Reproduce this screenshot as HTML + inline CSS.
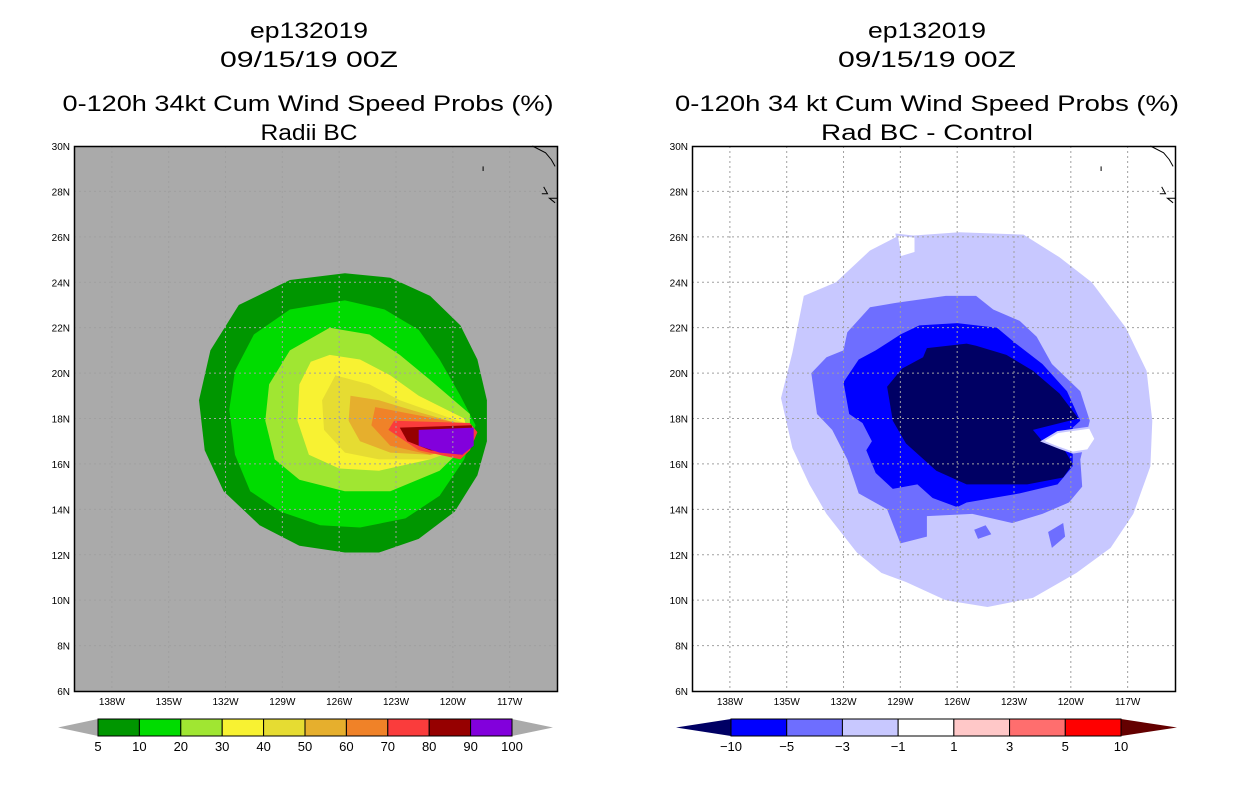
<!DOCTYPE html>
<html><head><meta charset="utf-8"><style>
html,body{margin:0;padding:0;background:#fff;}
svg{display:block;font-family:"Liberation Sans",sans-serif;}
</style></head><body>
<svg id="root" width="1236" height="800" viewBox="0 0 1236 800" xmlns="http://www.w3.org/2000/svg">
<g font-size="22" text-anchor="middle" fill="#000">
<text x="309" y="38" textLength="118" lengthAdjust="spacingAndGlyphs">ep132019</text>
<text x="309" y="67" textLength="178" lengthAdjust="spacingAndGlyphs">09/15/19 00Z</text>
<text x="308" y="111" textLength="491" lengthAdjust="spacingAndGlyphs">0-120h 34kt Cum Wind Speed Probs (%)</text>
<text x="309" y="140" textLength="97" lengthAdjust="spacingAndGlyphs">Radii BC</text>
</g>
<g font-size="22" text-anchor="middle" fill="#000">
<text x="927" y="38" textLength="118" lengthAdjust="spacingAndGlyphs">ep132019</text>
<text x="927" y="67" textLength="178" lengthAdjust="spacingAndGlyphs">09/15/19 00Z</text>
<text x="927" y="111" textLength="504" lengthAdjust="spacingAndGlyphs">0-120h 34 kt Cum Wind Speed Probs (%)</text>
<text x="927" y="140" textLength="212" lengthAdjust="spacingAndGlyphs">Rad BC - Control</text>
</g>
<g id="left"></g>
<g id="right"></g>
<g id="cbars"></g>
</svg>
<script>
// ---- axis data ----
const lonTicks = [138,135,132,129,126,123,120,117];
const latTicks = [6,8,10,12,14,16,18,20,22,24,26,28,30];
const lonMin = 114.5, lonMax = 140, latMin = 6, latMax = 30;

// ---- left panel: probability contours (lon W, lat N) ----
const leftLevels = [5,10,20,30,40,50,60,70,80,90];
const leftColors = ['#009600','#00dc00','#a0e632','#f8f232','#e6dc32','#e6af2d','#f08228','#fa3c3c','#960000','#8200dc'];
const p5 = [[125.7,24.4],[123.3,24.2],[121.2,23.4],[119.6,22.1],[118.7,20.6],[118.2,18.8],[118.2,17.0],[118.7,15.5],[119.9,13.9],[121.8,12.7],[123.9,12.1],[125.7,12.1],[128.1,12.4],[130.2,13.3],[132.1,14.8],[133.1,16.6],[133.4,18.8],[132.8,21.0],[131.3,23.0],[128.6,24.1]];
const p10 = [[125.7,23.2],[123.6,22.8],[121.8,21.9],[120.7,20.6],[119.6,19.0],[118.8,17.7],[119.4,16.2],[120.7,14.6],[122.5,13.6],[124.9,13.2],[127.0,13.3],[129.1,13.9],[130.7,14.8],[131.5,16.4],[131.8,18.4],[131.5,20.1],[130.5,21.7],[128.6,22.8]];
const p20 = [[126.5,22.0],[124.4,21.7],[122.8,20.8],[121.2,19.7],[119.1,18.2],[119.1,17.0],[120.7,15.7],[123.3,14.8],[125.7,14.8],[128.1,15.3],[129.4,16.2],[129.9,17.9],[129.7,19.5],[128.6,21.0]];
const p30 = [[126.5,20.8],[124.9,20.6],[123.3,19.9],[121.8,19.0],[119.4,18.0],[119.1,17.0],[121.2,16.2],[123.9,15.7],[126.0,15.8],[127.6,16.4],[128.2,17.9],[128.1,19.5],[127.5,20.5]];
const p40 = [[126.2,19.9],[124.4,19.5],[122.8,18.8],[119.4,17.8],[119.2,16.8],[121.2,16.2],[123.9,16.2],[125.7,16.5],[126.8,17.5],[126.9,18.8]];
const p50 = [[125.4,19.0],[123.9,18.8],[122.3,18.4],[119.4,17.7],[119.2,16.8],[121.2,16.4],[123.3,16.5],[124.9,17.0],[125.5,17.9]];
const p60 = [[124.1,18.5],[122.8,18.3],[119.1,17.7],[119.1,16.8],[121.2,16.4],[123.3,16.8],[124.3,17.7]];
const p70 = [[123.1,17.9],[119.1,17.8],[118.7,17.4],[119.1,16.6],[119.6,16.2],[121.8,16.6],[123.4,17.5]];
const p80 = [[122.8,17.6],[119.0,17.7],[118.9,17.0],[119.5,16.4],[121.2,16.6],[122.4,17.0]];
const p90 = [[121.8,17.5],[118.9,17.6],[118.9,16.8],[119.5,16.4],[120.7,16.5],[121.8,16.8]];
const leftPolys = [p5,p10,p20,p30,p40,p50,p60,p70,p80,p90];

// ---- right panel: difference contours ----
const rightLevels = [-1,-3,-5,-10];
const rightColors = ['#c8c8ff','#6e6eff','#0000ff','#000064'];
const r1 = [[125.9,26.2],[122.5,26.1],[120.6,25.1],[118.9,24.0],[117.1,22.0],[116.0,20.1],[115.7,17.9],[115.8,15.9],[116.7,13.8],[117.9,12.3],[119.7,11.2],[122.0,10.1],[124.4,9.7],[126.6,10.0],[128.7,10.8],[130.0,11.2],[131.3,12.1],[132.9,13.8],[133.8,15.1],[134.7,16.7],[135.3,18.9],[134.7,20.9],[134.1,23.4],[132.4,24.0],[130.6,25.4],[129.2,26.0]];
const r3 = [[126.6,23.4],[125.0,23.4],[124.1,22.8],[122.7,22.3],[121.8,21.6],[121.0,20.4],[119.5,19.2],[119.0,17.9],[119.5,16.2],[119.4,15.0],[120.1,14.3],[121.5,13.8],[123.1,13.4],[125.2,13.8],[127.6,13.7],[127.6,12.8],[129.0,12.5],[129.7,14.0],[131.2,14.7],[131.8,16.2],[132.6,17.5],[133.4,18.2],[133.7,20.0],[132.9,20.7],[132.0,21.0],[131.8,21.8],[130.6,22.9],[129.2,23.1]];
const r5 = [[128.0,22.1],[126.0,22.2],[123.9,22.0],[122.9,21.3],[121.5,20.4],[120.2,19.2],[119.5,17.9],[119.9,17.6],[119.9,15.9],[120.7,15.1],[122.7,14.7],[125.5,14.3],[126.0,14.1],[127.3,14.5],[128.1,15.1],[129.4,14.9],[130.3,15.6],[130.8,16.6],[130.5,17.0],[131.0,17.8],[131.7,18.2],[132.0,19.6],[131.2,20.6],[130.3,21.0],[129.0,21.7]];
const r10 = [[127.6,21.1],[125.5,21.3],[125.0,21.2],[123.4,20.8],[122.0,20.1],[120.6,19.1],[119.6,18.0],[122.0,17.5],[121.5,17.0],[120.4,16.7],[119.9,16.0],[120.4,15.4],[122.3,15.1],[125.5,15.1],[127.1,15.7],[128.7,16.9],[129.4,17.9],[129.7,19.4],[128.9,20.2],[127.8,20.7]];
const rightPolys = [r1,r3,r5,r10];
const blobsMed = [[[125.1,13.1],[124.5,13.3],[124.2,12.9],[124.9,12.7]],[[121.2,13.0],[120.4,13.4],[120.3,12.8],[121.0,12.3]]];
const holesWhite = [[[121.5,17.0],[120.7,17.4],[119.0,17.6],[118.7,17.1],[119.1,16.6],[119.9,16.5],[120.6,16.7]],[[129.2,26.1],[128.2,26.0],[128.2,25.3],[129.0,25.1]]];

// ---- coastline ----
const coast = [[[115.8,30.0],[115.1,29.7],[114.8,29.4],[114.6,29.1]],[[118.4,29.1],[118.4,28.9]],[[115.2,28.2],[115.0,27.9],[115.3,27.9]],[[114.5,27.7],[114.9,27.7],[114.6,27.5]]];

// ---- colorbars ----
const leftBarLabels = ['5','10','20','30','40','50','60','70','80','90','100'];
const rightBarColors = ['#0000ff','#6e6eff','#c8c8ff','#ffffff','#ffc8c8','#ff6e6e','#ff0000'];
const rightBarLabels = ['\u221210','\u22125','\u22123','\u22121','1','3','5','10'];

const NS = 'http://www.w3.org/2000/svg';
const W = 483, H = 545, TOP = 146;
function xS(lon, x0){ return x0 + (lonMax - lon) / (lonMax - lonMin) * W; }
function yS(lat){ return TOP + (latMax - lat) / (latMax - latMin) * H; }
function mk(tag, attrs, parent){ const e = document.createElementNS(NS, tag); for (const k in attrs) e.setAttribute(k, attrs[k]); parent.appendChild(e); return e; }
function pts(poly, x0){ return poly.map(p => xS(p[0], x0).toFixed(1) + ',' + yS(p[1]).toFixed(1)).join(' '); }

function panel(g, x0, bg, polys, colors, prefix){
  const r = mk('rect', {x:x0, y:TOP, width:W, height:H, fill:bg}, g);
  
  
  polys.forEach((poly, i) => {
    const p = mk('polygon', {points: pts(poly, x0), fill: colors[i]}, g);
    
    
  });
  return g;
}
function decorate(g, x0, prefix){
  lonTicks.forEach(t => {
    const x = xS(t, x0);
    const l = mk('line', {x1:x, x2:x, y1:TOP, y2:TOP+H, stroke:'#a0a0a0', 'stroke-dasharray':'2,3'}, g);
    
    
    const tx = mk('text', {x:x, y:TOP+H+14, 'font-size':10, 'text-anchor':'middle'}, g);
    tx.textContent = t + 'W';
    
    
  });
  latTicks.forEach(t => {
    const y = yS(t);
    if (t > latMin && t < latMax) {
      const l = mk('line', {x1:x0, x2:x0+W, y1:y, y2:y, stroke:'#a0a0a0', 'stroke-dasharray':'2,3'}, g);
      
      
    }
    const tx = mk('text', {x:x0-4, y:y+4, 'font-size':10, 'text-anchor':'end'}, g);
    tx.textContent = t + 'N';
    
    
  });
  coast.forEach(c => {
    const pl = mk('polyline', {points: pts(c, x0), fill:'none', stroke:'#000', 'stroke-width':1}, g);
    
    
  });
  const f = mk('rect', {x:x0+0.5, y:TOP+0.5, width:W, height:H, fill:'none', stroke:'#000', 'stroke-width':1.5}, g);
  
  
}

const gl = document.getElementById('left');
panel(gl, 74, '#aaaaaa', leftPolys, leftColors, 'left');
decorate(gl, 74, 'left');

const gr = document.getElementById('right');
panel(gr, 692, '#ffffff', rightPolys, rightColors, 'right');
blobsMed.forEach(b => {
  const p = mk('polygon', {points: pts(b, 692), fill:'#6e6eff'}, gr);
  
  
});
holesWhite.forEach(b => {
  const p = mk('polygon', {points: pts(b, 692), fill:'#ffffff', stroke:'#c8c8ff', 'stroke-width':2}, gr);
  
  
});
decorate(gr, 692, 'right');

// colorbars
const cb = document.getElementById('cbars');
function bar(x0, x1, colors, labels, leftTri, rightTri, prefix){
  const y0 = 719, y1 = 736, ym = 727.5;
  const n = colors.length, w = (x1 - x0) / n;
  const t1 = mk('polygon', {points: `${x0},${y0} ${x0},${y1} ${leftTri[0]},${ym}`, fill:leftTri[1]}, cb);
  
  
  const t2 = mk('polygon', {points: `${x1},${y0} ${x1},${y1} ${rightTri[0]},${ym}`, fill:rightTri[1]}, cb);
  
  
  colors.forEach((c, i) => {
    const r = mk('rect', {x:x0 + i*w, y:y0, width:w, height:y1-y0, fill:c, stroke:'#000', 'stroke-width':1}, cb);
    
    
  });
  labels.forEach((s, i) => {
    const t = mk('text', {x:x0 + i*w, y:751, 'font-size':13, 'text-anchor':'middle'}, cb);
    t.textContent = s;
    
    
  });
}
bar(98, 512, leftColors, leftBarLabels, [58,'#aaaaaa'], [553,'#aaaaaa'], 'left');
bar(731, 1121, rightBarColors, rightBarLabels, [676,'#000064'], [1177,'#640000'], 'right');
</script>
</body></html>
